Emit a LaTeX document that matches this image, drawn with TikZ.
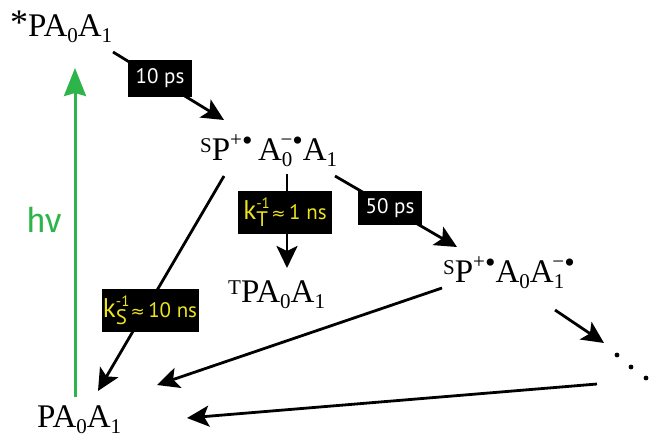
\documentclass[tikz,border=0pt]{standalone}
\usepackage{fontspec}
\setmainfont{Liberation Serif}
\newfontfamily\labfont{PT Sans}
\newfontfamily\hnufont{Fira Sans}
\newfontfamily\symfont{DejaVu Sans}
\usetikzlibrary{arrows.meta}
\definecolor{lblyellow}{RGB}{235,228,30}
\definecolor{hvgreen}{RGB}{45,180,75}
\newcommand\mainsz{\fontsize{33}{33}\selectfont}
\newcommand\lo[1]{\raisebox{-0.2em}{\fontsize{21}{21}\selectfont #1}}
\newcommand\hi[1]{\raisebox{0.42em}{\fontsize{21}{21}\selectfont #1}}
\newcommand\pre[1]{\raisebox{0.24em}{\fontsize{21}{21}\selectfont #1}}
\newcommand\bul{\raisebox{0.3em}{\fontsize{30}{30}\selectfont •}}
\newcommand\lbsz{\fontsize{21}{21}\selectfont}
\newcommand\klab[2]{{\fontsize{27}{27}\selectfont k}\rlap{\raisebox{0.55em}{\fontsize{15}{15}\selectfont -1}}{\fontsize{21}{21}\selectfont\raisebox{-0.3em}{#1}}\,{\symfont\fontsize{17}{17}\selectfont ≈}\,#2}
\tikzset{
  species/.style={font=\mainsz, inner sep=0pt, anchor=base west},
  rate/.style={fill=black, text=white, font=\labfont\lbsz, inner sep=0pt},
  klabel/.style={fill=black, text=lblyellow, font=\labfont\lbsz, inner sep=0pt},
  conn/.style={line width=2.8pt, -{Stealth[length=22pt,width=21pt,inset=5pt]}},
}
\begin{document}
\begin{tikzpicture}[x=1pt,y=-1pt]
\useasboundingbox (0,0) rectangle (652,437);
% species
\node[species] (exc) at (10,36) {{\fontsize{36}{36}\selectfont\raisebox{0.03em}{*}}PA\lo{0}A\lo{1}};
\node[species] (rp1) at (200,160) {\pre{S}P\hi{+}\bul\,A\lo{0}\llap{\hi{−}}\bul A\lo{1}};
\node[species] (trip) at (228,302) {\pre{T}PA\lo{0}A\lo{1}};
\node[species] (rp2) at (443,282) {\pre{S}P\hi{+}\bul A\lo{0}A\lo{1}\llap{\hi{−}}\bul};
\node[species] (gnd) at (37,427) {PA\lo{0}A\lo{1}};
% dots
\fill (617,355) circle (2.4pt) (631,367) circle (2.4pt) (646,378) circle (2.4pt);
\coordinate (dots) at (631,367);
% connector ends
\coordinate (c1s) at (113,52);  \coordinate (c1e) at (224,120);
\coordinate (c2s) at (224,176); \coordinate (c2e) at (98,391);
\coordinate (c3s) at (287,174); \coordinate (c3e) at (287,268);
\coordinate (c4s) at (335,176); \coordinate (c4e) at (457,247);
\coordinate (c5s) at (442,288); \coordinate (c5e) at (157,385);
\coordinate (c6s) at (555,310); \coordinate (c6e) at (604,343);
\coordinate (c7s) at (597,384); \coordinate (c7e) at (187,418);
\coordinate (gs) at (75,397);   \coordinate (ge) at (75,68);
\draw[conn] (c1s) -- (c1e);
\draw[conn] (c2s) -- (c2e);
\draw[conn] (c3s) -- (c3e);
\draw[conn] (c4s) -- (c4e);
\draw[conn] (c5s) -- (c5e);
\draw[conn] (c6s) -- (c6e);
\draw[conn] (c7s) -- (c7e);
\draw[hvgreen, line width=3pt, -{Stealth[length=28pt,width=22pt,inset=3pt]}] (gs) -- (ge);
\node[anchor=base west, text=hvgreen, font=\hnufont\fontsize{34}{34}\selectfont, inner sep=0pt] (hnu) at (26,232) {hν};
% rate boxes
\node[rate, minimum width=64pt, minimum height=37pt] (r10) at (160,78) {10 ps};
\node[rate, minimum width=64pt, minimum height=34pt] (r50) at (390,208) {50 ps};
\node[klabel, minimum width=94pt, minimum height=43pt] (kt) at (285,212) {\klab{T}{1 ns}};
\node[klabel, minimum width=97pt, minimum height=43pt] (ks) at (150,310) {\klab{S}{10 ns}};
\end{tikzpicture}
\end{document}
